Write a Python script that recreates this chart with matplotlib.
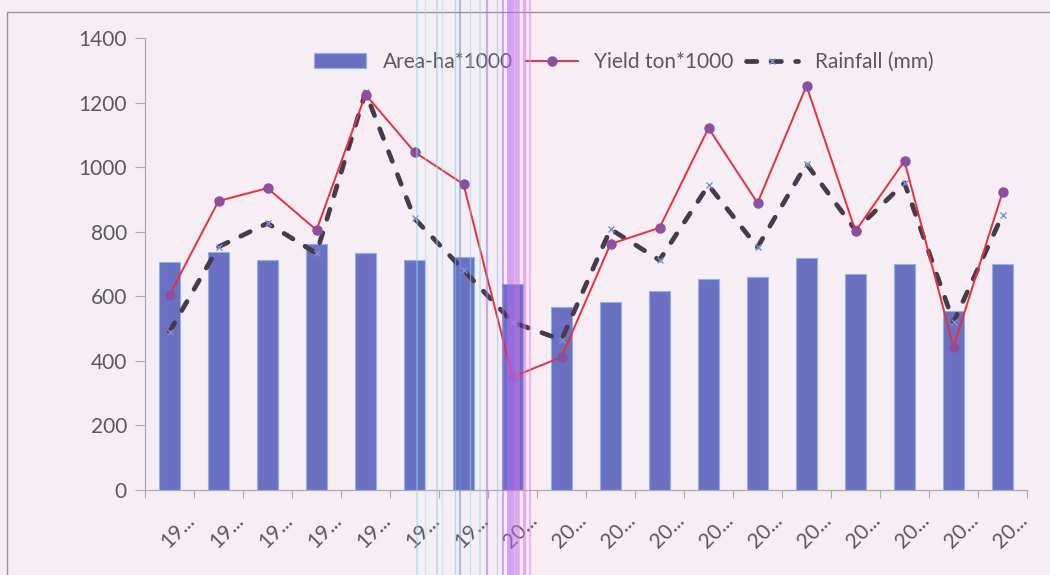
import matplotlib
matplotlib.use("Agg")
import matplotlib.pyplot as plt
import matplotlib.patches as mpatches
from matplotlib.lines import Line2D
import numpy as np

# Category labels (truncated years) and series values
years = ["19..."] * 7 + ["20..."] * 11
area = [706, 737, 712, 762, 734, 712, 721, 638, 567, 582, 616, 653, 660, 719, 669, 700, 554, 700]
yield_t = [604, 895, 935, 805, 1225, 1047, 947, 350, 412, 762, 812, 1121, 889, 1252, 802, 1019, 443, 922]
rainfall = [490, 753, 826, 733, 1232, 841, 681, 520, 465, 808, 712, 944, 752, 1010, 805, 951, 520, 852]
yticks = [0, 200, 400, 600, 800, 1000, 1200, 1400]

W, H = 1050, 575
bg = "#f7edf5"
txt = "#5a5a5a"
fig = plt.figure(figsize=(W / 100, H / 100), dpi=100, facecolor=bg)
ax = fig.add_axes([145 / W, 85 / H, 882 / W, 452 / H])
ax.set_facecolor(bg)

x = np.arange(len(years))
bars = ax.bar(x, area, width=0.44, color="#6b71c2", edgecolor="#8fb2e2",
              linewidth=0.8, zorder=2, label="Area-ha*1000")
ln_y, = ax.plot(x, yield_t, color="#e8303c", lw=1.4, marker="o", ms=6.5,
                mfc="#8c4f9e", mec="#8c4f9e", zorder=4, label="Yield ton*1000")
ln_r, = ax.plot(x, rainfall, color="#463a4c", lw=3.4, ls=(0, (2.2, 3.0)),
                dash_capstyle="round", marker="x", ms=5, mec="#7f8ed0",
                mew=1.0, zorder=3, label="Rainfall (mm)")

ax.set_xlim(-0.5, len(years) - 0.5)
ax.set_ylim(0, 1400)
ax.set_yticks(yticks)
ax.set_yticklabels([str(v) for v in yticks], fontsize=15, color=txt,
                   family="Lato")
ax.tick_params(axis="y", length=7, width=0.8, color="#b0aab0", pad=6)

# category boundary ticks on the x axis
ax.set_xticks(np.arange(len(years) + 1) - 0.5)
ax.set_xticklabels([])
ax.tick_params(axis="x", length=6, width=0.8, color="#b0aab0")
for i, lab in enumerate(years):
    ax.text(i + 0.3, -62, lab, rotation=45, ha="right", va="top",
            rotation_mode="anchor", fontsize=15, color=txt, family="Lato")

for s in ("top", "right"):
    ax.spines[s].set_visible(False)
for s in ("left", "bottom"):
    ax.spines[s].set_color("#b0aab0")
    ax.spines[s].set_linewidth(0.9)

leg = ax.legend(handles=[bars, ln_y, ln_r], loc="center",
                bbox_to_anchor=(624 / W, (575 - 62) / H),
                bbox_transform=fig.transFigure, ncol=3, frameon=False,
                prop={"family": "Lato", "size": 15}, labelcolor=txt,
                handlelength=2.5, columnspacing=0.6, handletextpad=0.8)

# chart border
fig.patches.append(mpatches.Rectangle((7 / W, -0.1), 1.2, (575 - 12) / H + 0.1,
                                      transform=fig.transFigure, fill=False,
                                      edgecolor="#9a959a", lw=1.0, zorder=0))

# colour streaks across the page
streaks = [(417, "#7fe0e8", 1.2), (425, "#9fe8ee", 1.0), (437, "#7fd8e8", 1.2),
           (442, "#9fe0f0", 1.0), (455, "#70d0e8", 1.0), (460, "#6a8ee8", 1.5),
           (470, "#8fdcec", 1.0), (480, "#8ad8ee", 1.2), (487, "#9a7ae8", 1.6),
           (497, "#80c8f0", 1.0), (503, "#a070f0", 1.5), (510, "#b868f0", 5.0),
           (517, "#d070f0", 4.0), (524, "#e070e8", 2.5), (530, "#f080e8", 1.5)]
for px, col, lw in streaks:
    fig.add_artist(Line2D([px / W, px / W], [0, 1], transform=fig.transFigure,
                          color=col, lw=lw, alpha=0.55, zorder=10))

fig.savefig("out.png", dpi=100, facecolor=bg)
